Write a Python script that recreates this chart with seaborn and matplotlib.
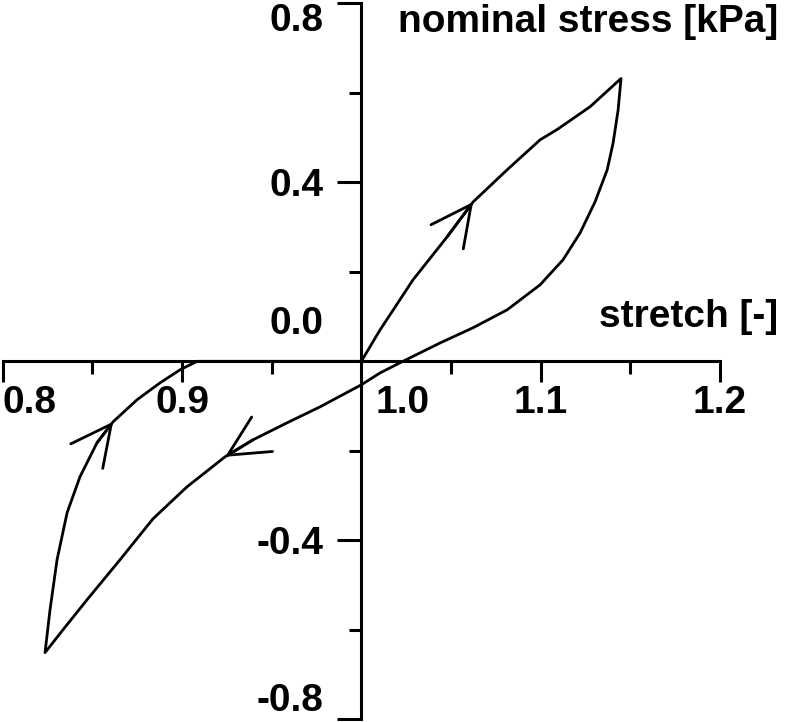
import matplotlib
matplotlib.use("Agg")
import matplotlib.pyplot as plt
import seaborn as sns
import numpy as np

# stretch / nominal stress
load_x = [1.0, 1.0104, 1.0288, 1.0478, 1.0623, 1.0813, 1.0997, 1.1092, 1.1276, 1.1448]
load_y = [0.0, 0.070, 0.182, 0.278, 0.356, 0.428, 0.495, 0.518, 0.569, 0.632]

unload_x = [1.1448, 1.1432, 1.1404, 1.1371, 1.1304, 1.1220, 1.1125, 1.0997, 1.0813, 1.0623,
            1.0439, 1.0232, 1.0104, 1.0, 0.9770, 0.9586, 0.9396, 0.9240, 0.9028, 0.8838,
            0.8654, 0.8470, 0.8336, 0.8236]
unload_y = [0.632, 0.562, 0.488, 0.428, 0.357, 0.287, 0.227, 0.171, 0.115, 0.075,
            0.041, 0.0, -0.026, -0.0525, -0.1017, -0.1374, -0.1754, -0.2134, -0.2804, -0.352,
            -0.4436, -0.533, -0.600, -0.651]

reload_x = [0.8236, 0.8264, 0.8303, 0.8359, 0.8431, 0.8526, 0.8616, 0.8749, 0.8878, 0.8989, 0.9084, 1.0]
reload_y = [-0.651, -0.555, -0.4436, -0.3385, -0.258, -0.182, -0.135, -0.086, -0.048, -0.019, 0.0, 0.0]

# index of the point on each branch that carries a direction arrow
arrow_idx = {"load": 4, "unload": 17, "reload": 6}

xticks = [0.8, 0.9, 1.1, 1.2]
yticks = [0.8, 0.4, -0.4, -0.8]

sns.set_style("ticks")
plt.rcParams['font.family'] = ['Liberation Sans', 'DejaVu Sans']
plt.rcParams['font.weight'] = 'bold'
for k in ['text.color', 'xtick.color', 'ytick.color', 'axes.edgecolor', 'axes.labelcolor']:
    plt.rcParams[k] = 'black'
FS = 28

fig = plt.figure(figsize=(7.86, 7.22), dpi=100)
ax = fig.add_axes([2.7 / 786, 2.7 / 722, 717.3 / 786, 716 / 722])

xs = load_x + unload_x[1:] + reload_x[1:]
ys = load_y + unload_y[1:] + reload_y[1:]
sns.lineplot(x=xs, y=ys, sort=False, estimator=None, color='black', lw=2.0, ax=ax)

for name, bx, by in [("load", load_x, load_y), ("unload", unload_x, unload_y), ("reload", reload_x, reload_y)]:
    i = arrow_idx[name]
    ax.annotate("", xy=(bx[i], by[i]), xytext=(bx[i - 1], by[i - 1]),
                arrowprops=dict(arrowstyle='->,head_length=2.9,head_width=1.45',
                                mutation_scale=10, color='black', lw=2.0,
                                shrinkA=0, shrinkB=0))

ax.set_xlim(0.8, 1.2)
ax.set_ylim(-0.8, 0.8)
ax.spines['left'].set_position(('data', 1.0))
ax.spines['bottom'].set_position(('data', 0.0))
ax.spines['top'].set_visible(False)
ax.spines['right'].set_visible(False)
for s in ['left', 'bottom']:
    ax.spines[s].set_linewidth(2.2)

ax.set_xticks(xticks)
ax.set_xticklabels([f"{v:.1f}" for v in xticks])
ax.set_yticks(yticks)
ax.set_yticklabels([f"{v:.1f}" for v in yticks])
ax.set_xticks([0.85, 0.95, 1.05, 1.15], minor=True)
ax.set_yticks([0.6, 0.2, -0.2, -0.6], minor=True)
ax.tick_params(axis='x', which='major', direction='out', length=15, width=2.2, pad=2, labelsize=FS)
ax.tick_params(axis='y', which='major', direction='out', length=17, width=2.2, pad=10, labelsize=FS)
ax.tick_params(which='minor', direction='out', length=9, width=2.2)
for lab in ax.get_xticklabels() + ax.get_yticklabels():
    lab.set_fontweight('bold')
ax.get_xticklabels()[0].set_ha('left')
ax.get_yticklabels()[0].set_va('top')
ax.get_yticklabels()[-1].set_va('bottom')

# labels at the origin, moved off the axis lines
ax.annotate("1.0", xy=(1.0, 0.0), xytext=(30, -17), textcoords='offset points',
            ha='center', va='top', fontsize=FS, fontweight='bold')
ax.annotate("0.0", xy=(1.0, 0.0), xytext=(-27, 27), textcoords='offset points',
            ha='right', va='center', fontsize=FS, fontweight='bold')

fig.text(0.990, 0.9695, "nominal stress [kPa]", ha='right', va='center', fontsize=FS, fontweight='bold')
fig.text(0.990, 0.561, "stretch [-]", ha='right', va='center', fontsize=FS, fontweight='bold')

fig.savefig("out.png", dpi=100)
